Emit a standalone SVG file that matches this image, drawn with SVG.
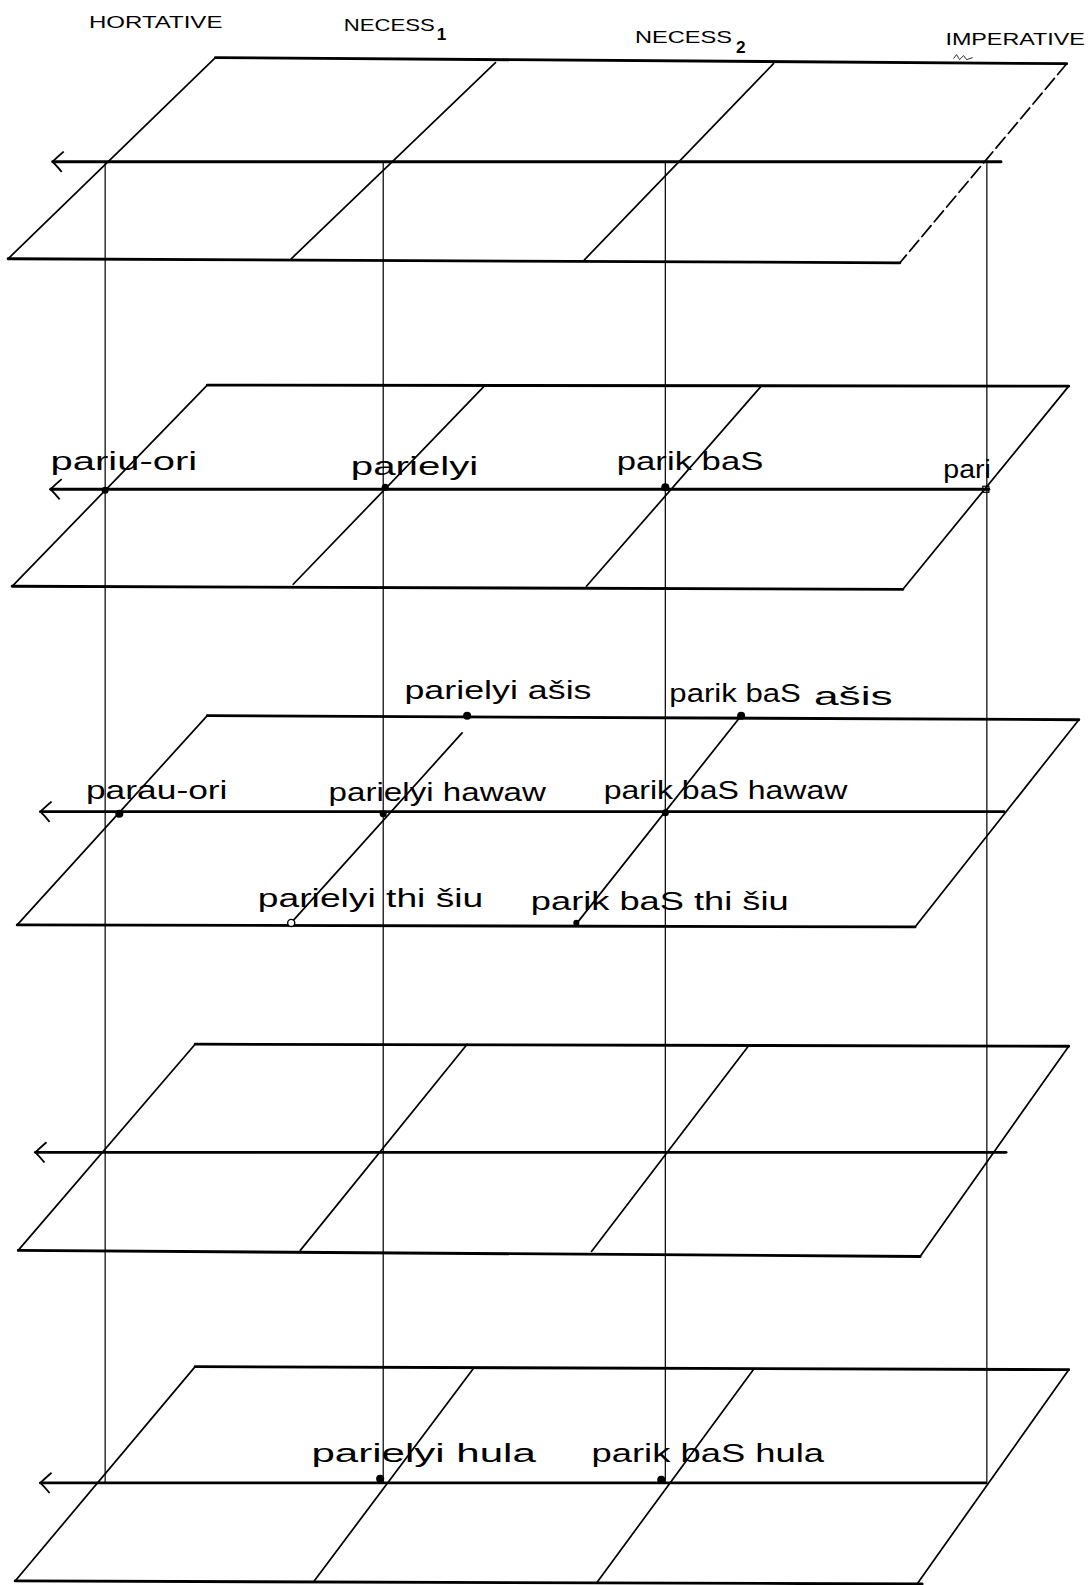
<svg xmlns="http://www.w3.org/2000/svg" width="1091" height="1585" viewBox="0 0 1091 1585">
<style>
.h{stroke:#000;stroke-width:2.8;fill:none;stroke-linecap:round}
.d{stroke:#000;stroke-width:1.7;fill:none;stroke-linecap:round}
.v{stroke:#000;stroke-width:1.2;fill:none}
.hd{font-family:"Liberation Sans",Arial,sans-serif;font-size:17px;fill:#000}
.lb{font-family:"Liberation Sans",Arial,sans-serif;font-size:25px;fill:#000}
.dot{fill:#000}
</style>
<defs>
<marker id="arr" viewBox="0 0 14 22" refX="1" refY="11" markerWidth="14" markerHeight="22" markerUnits="userSpaceOnUse" orient="auto">
<path d="M12,1 Q5,7 1,11 Q5,15 10,21" fill="none" stroke="#000" stroke-width="1.8"/>
</marker>
</defs>
<rect width="1091" height="1585" fill="#fff"/>
<g transform="scale(1.01112 1.01084)">
<g id="headers">
<text class="hd" x="88" y="28" textLength="132" lengthAdjust="spacingAndGlyphs">HORTATIVE</text>
<text class="hd" x="340" y="31" textLength="90" lengthAdjust="spacingAndGlyphs">NECESS</text>
<text class="hd" x="432" y="40" font-size="19" font-weight="bold">1</text>
<text class="hd" x="628" y="43" textLength="96" lengthAdjust="spacingAndGlyphs">NECESS</text>
<text class="hd" x="728" y="52" font-size="19" font-weight="bold">2</text>
<text class="hd" x="935" y="45" textLength="138" lengthAdjust="spacingAndGlyphs">IMPERATIVE</text>
<path d="M943,58 l3,-4 l3,5 l4,-4 l3,4 l6,-2" stroke="#000" stroke-width="0.8" fill="none"/>
</g>
<g id="connectors">
<line class="v" x1="104" y1="160" x2="104" y2="1468"/>
<line class="v" x1="379" y1="160" x2="379" y2="1468"/>
<line class="v" x1="658" y1="160" x2="658" y2="1468"/>
<line class="v" x1="976" y1="160" x2="976" y2="1468"/>
</g>
<g id="plane1">
<line class="h" x1="213" y1="57" x2="1055" y2="63"/>
<line class="h" x1="52" y1="160" x2="990" y2="160" marker-start="url(#arr)"/>
<line class="h" x1="8" y1="256" x2="890" y2="260"/>
<line class="d" x1="213" y1="57" x2="8" y2="256"/>
<line class="d" x1="490" y1="62" x2="288" y2="256"/>
<line class="d" x1="765" y1="63" x2="578" y2="257"/>
<line class="d" x1="1055" y1="63" x2="890" y2="260" stroke-dasharray="14,5"/>
</g>
<g id="plane2">
<line class="h" x1="205" y1="381" x2="1057" y2="382"/>
<line class="h" x1="50" y1="484" x2="978" y2="484" marker-start="url(#arr)"/>
<line class="h" x1="12" y1="580" x2="893" y2="583"/>
<line class="d" x1="205" y1="381" x2="12" y2="580"/>
<line class="d" x1="478" y1="383" x2="290" y2="578"/>
<line class="d" x1="752" y1="383" x2="580" y2="580"/>
<line class="d" x1="1057" y1="382" x2="893" y2="583"/>
<circle class="dot" cx="104" cy="485" r="3.5"/>
<circle class="dot" cx="381" cy="482" r="3.5"/>
<circle class="dot" cx="658" cy="482" r="4"/>
<rect x="972" y="481" width="6" height="6" fill="none" stroke="#000" stroke-width="1.2"/>
<text class="lb" x="50" y="465" textLength="145" lengthAdjust="spacingAndGlyphs">pariu-ori</text>
<text class="lb" x="347" y="470" textLength="126" lengthAdjust="spacingAndGlyphs">parielyi</text>
<text class="lb" x="610" y="465" textLength="145" lengthAdjust="spacingAndGlyphs">parik baS</text>
<text class="lb" x="933" y="473" textLength="47" lengthAdjust="spacingAndGlyphs">pari</text>
</g>
<g id="plane3">
<line class="h" x1="205" y1="708" x2="1067" y2="712"/>
<line class="h" x1="40" y1="803" x2="993" y2="803" marker-start="url(#arr)"/>
<line class="h" x1="17" y1="915" x2="905" y2="917"/>
<line class="d" x1="205" y1="708" x2="17" y2="915"/>
<line class="d" x1="457" y1="725" x2="287" y2="914"/>
<line class="d" x1="733" y1="708" x2="570" y2="914"/>
<line class="d" x1="1067" y1="712" x2="905" y2="917"/>
<circle class="dot" cx="462" cy="708" r="4"/>
<circle class="dot" cx="733" cy="708" r="4"/>
<circle class="dot" cx="118" cy="805" r="4"/>
<circle class="dot" cx="379" cy="805" r="3.5"/>
<circle class="dot" cx="658" cy="804" r="3.5"/>
<circle cx="288" cy="913" r="3.5" fill="#fff" stroke="#000" stroke-width="1.4"/>
<circle class="dot" cx="570" cy="913" r="3"/>
<text class="lb" x="400" y="692" textLength="185" lengthAdjust="spacingAndGlyphs">parielyi ašis</text>
<text class="lb" x="662" y="694" textLength="130" lengthAdjust="spacingAndGlyphs">parik baS</text>
<text class="lb" x="805" y="697" font-size="20" textLength="78" lengthAdjust="spacingAndGlyphs">ašis</text>
<text class="lb" x="85" y="790" textLength="140" lengthAdjust="spacingAndGlyphs">parau-ori</text>
<text class="lb" x="325" y="792" textLength="215" lengthAdjust="spacingAndGlyphs">parielyi hawaw</text>
<text class="lb" x="597" y="790" textLength="241" lengthAdjust="spacingAndGlyphs">parik baS hawaw</text>
<text class="lb" x="255" y="897" textLength="223" lengthAdjust="spacingAndGlyphs">parielyi thi šiu</text>
<text class="lb" x="525" y="900" textLength="255" lengthAdjust="spacingAndGlyphs">parik baS thi šiu</text>
</g>
<g id="plane4">
<line class="h" x1="193" y1="1033" x2="1057" y2="1035"/>
<line class="h" x1="35" y1="1140" x2="995" y2="1140" marker-start="url(#arr)"/>
<line class="h" x1="18" y1="1237" x2="910" y2="1243"/>
<line class="d" x1="193" y1="1033" x2="18" y2="1237"/>
<line class="d" x1="462" y1="1033" x2="297" y2="1237"/>
<line class="d" x1="740" y1="1035" x2="585" y2="1238"/>
<line class="d" x1="1057" y1="1035" x2="910" y2="1243"/>
</g>
<g id="plane5">
<line class="h" x1="193" y1="1352" x2="1057" y2="1355"/>
<line class="h" x1="40" y1="1467" x2="975" y2="1467" marker-start="url(#arr)"/>
<line class="h" x1="15" y1="1564" x2="912" y2="1567"/>
<line class="d" x1="193" y1="1352" x2="15" y2="1564"/>
<line class="d" x1="468" y1="1354" x2="310" y2="1565"/>
<line class="d" x1="745" y1="1355" x2="590" y2="1566"/>
<line class="d" x1="1057" y1="1355" x2="907" y2="1567"/>
<circle class="dot" cx="376" cy="1463" r="4"/>
<circle class="dot" cx="654" cy="1464" r="4"/>
<text class="lb" x="308" y="1446" textLength="222" lengthAdjust="spacingAndGlyphs">parielyi hula</text>
<text class="lb" x="585" y="1446" textLength="230" lengthAdjust="spacingAndGlyphs">parik baS hula</text>
</g>
</g>
</svg>
